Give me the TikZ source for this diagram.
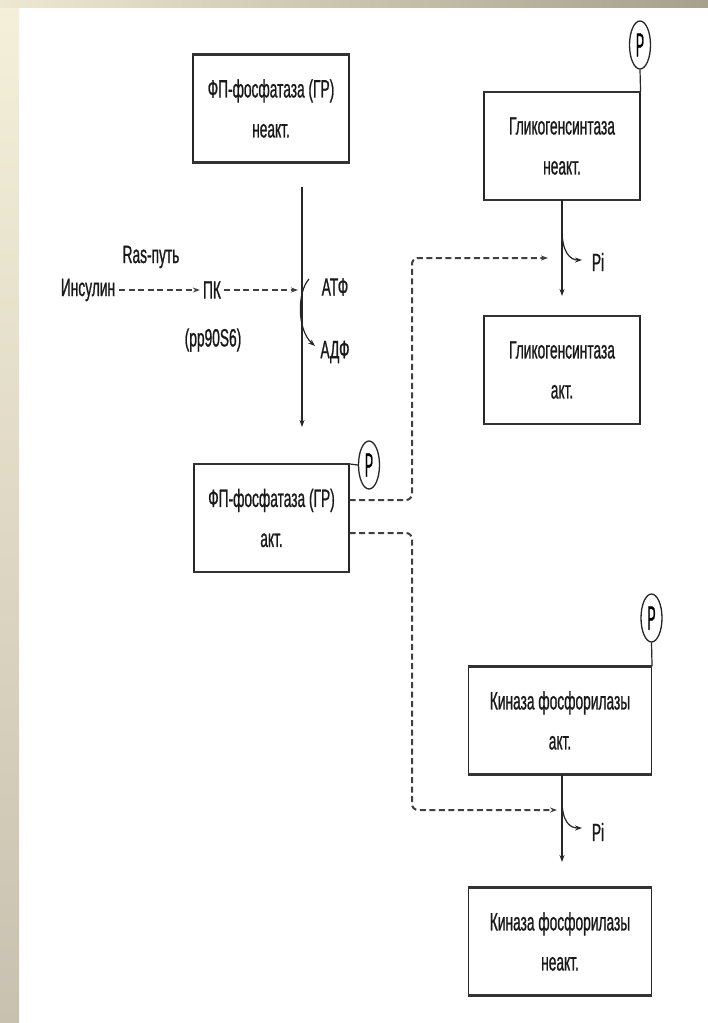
\documentclass[tikz,border=0pt]{standalone}
\usepackage{fontspec}
\setmainfont{Liberation Sans}[FakeStretch=0.55,FakeBold=0.8]
\usetikzlibrary{arrows.meta,calc,shapes.geometric}
\begin{document}
\begin{tikzpicture}[x=1pt,y=-1pt,
  lab/.style={font=\fontsize{25pt}{40pt}\selectfont, inner sep=0pt, align=center, text=black!90},
  box/.style={lab, draw=black!85, line width=1.1pt, minimum width=#1, minimum height=107pt},
  box/.default=156pt,
  pc/.style={draw=black!85, line width=1.3pt, ellipse, minimum width=21pt, minimum height=48pt, inner sep=0pt, font=\fontsize{25pt}{28pt}\selectfont},
  arr/.style={-{Stealth[length=7pt,width=5pt]}},
  sol/.style={draw=black!85, line width=1.2pt},
  edge/.style={draw=black!80, line width=2.4pt},
  dsh/.style={draw=black!75, line width=2pt, dash pattern=on 6pt off 3.5pt}
]
\useasboundingbox (0,0) rectangle (708,1023);
% background border
\fill[white] (0,0) rectangle (708,1023);
\shade[top color={rgb,255:red,245;green,240;blue,218}, bottom color={rgb,255:red,200;green,193;blue,175}] (0,0) rectangle (19,1023);
\shade[left color={rgb,255:red,238;green,232;blue,210}, right color={rgb,255:red,166;green,160;blue,140}] (0,0) rectangle (708,7);

% boxes
\node[box=156pt] (fp1) at (271,108.5) {ФП-фосфатаза (ГР)\\неакт.};
\node[box=155pt] (fp2) at (271.5,518) {ФП-фосфатаза (ГР)\\акт.};
\node[box=156pt] (gs1) at (562,146) {Гликогенсинтаза\\неакт.};
\node[box=156pt] (gs2) at (562,370) {Гликогенсинтаза\\акт.};
\node[box=183pt] (kf1) at (560,720.5) {Киназа фосфорилазы\\акт.};
\node[box=183pt] (kf2) at (560,941.5) {Киназа фосфорилазы\\неакт.};
\foreach \b in {fp1,fp2,gs1,gs2,kf1,kf2}{
  \draw[edge] (\b.north west) -- (\b.north east);
  \draw[edge] (\b.south west) -- (\b.south east);
}

% phosphate circles
\node[pc] (p1) at (640,45) {\scalebox{0.9}[1.35]{P}};
\node[pc] (p2) at (369,465) {\scalebox{0.9}[1.35]{P}};
\node[pc] (p3) at (651.5,618) {\scalebox{0.9}[1.35]{P}};
\draw[sol] (gs1.north east) -- (p1.south);
\draw[sol] (fp2.north east) -- (p2.west);
\draw[sol] (kf1.north east) -- (p3.south);

% insulin row
\node[lab] (ins) at (88,290) {Инсулин};
\node[lab] (ras) at (151,257) {Ras-путь};
\node[lab] (pk) at (212,290) {ПК};
\node[lab] (pp) at (213,340) {(pp90S6)};
\node[lab] (atf) at (335,287) {АТФ};
\node[lab] (adf) at (335,352) {АДФ};

\coordinate (m1) at (302,187);
\coordinate (m2) at (302,427);
\coordinate (hit) at (302,290);
\draw[sol,arr] (m1) -- (m2);
\draw[dsh,arr,shorten <=4pt,shorten >=3pt] (ins.east) -- (pk.west);
\draw[dsh,arr,shorten <=3pt,shorten >=4pt] (pk.east) -- (hit);
\coordinate (c1) at (309,279);
\coordinate (c2) at (315,346);
\draw[sol,arr] (c1) .. controls (297,292) and (297,330) .. (c2);

% glycogen synthase reaction
\coordinate (g1) at (562,230);
\coordinate (g2) at (562,258);
\coordinate (g3) at (582,260);
\node[lab] (pi1) at (598,262) {Pi};
\draw[sol,arr,shorten >=20pt] (gs1.south) -- (gs2.north);
\draw[sol,arr] (g1) .. controls (562,252) and (570,260) .. (g3);

% kinase reaction
\coordinate (k1) at (562,800);
\coordinate (k2) at (562,810);
\coordinate (k3) at (582,828);
\coordinate (k4) at (562,775);
\coordinate (k5) at (562,862);
\node[lab] (pi2) at (598,832) {Pi};
\draw[sol,arr] (k4) -- (k5);
\draw[sol,arr] (k1) .. controls (562,822) and (570,828) .. (k3);

% dashed regulatory lines
\draw[dsh,arr,rounded corners=6pt,shorten >=14pt] ([yshift=18pt]fp2.east) -- (412,500) |- (g2);
\draw[dsh,arr,rounded corners=6pt,shorten >=5pt] ([yshift=-15pt]fp2.east) -- (412,533) |- (k2);
\end{tikzpicture}
\end{document}
